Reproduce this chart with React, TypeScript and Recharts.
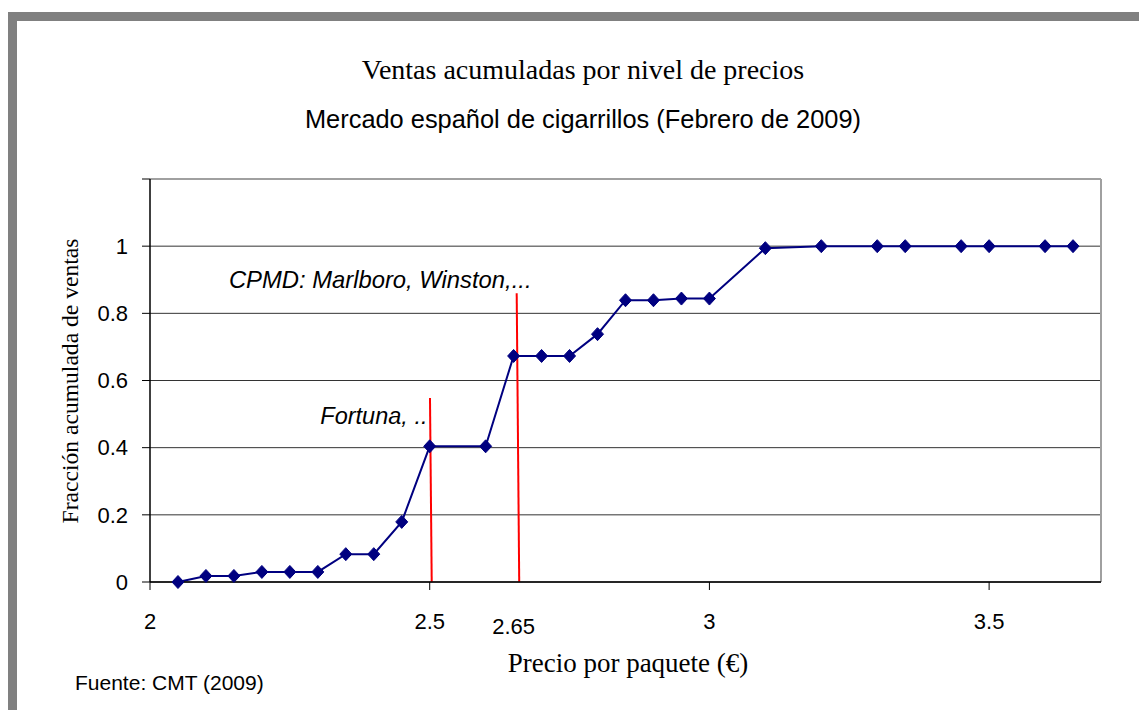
import React from "react";
import {
  LineChart,
  Line,
  XAxis,
  YAxis,
  CartesianGrid,
  ReferenceLine,
  ReferenceDot,
} from "recharts";

const prices = [
  2.05, 2.1, 2.15, 2.2, 2.25, 2.3, 2.35, 2.4, 2.45, 2.5, 2.6, 2.65, 2.7, 2.75,
  2.8, 2.85, 2.9, 2.95, 3.0, 3.1, 3.2, 3.3, 3.35, 3.45, 3.5, 3.6, 3.65,
];
const fractions = [
  0, 0.018, 0.018, 0.03, 0.03, 0.03, 0.083, 0.083, 0.179, 0.404, 0.404, 0.673,
  0.673, 0.673, 0.738, 0.839, 0.839, 0.844, 0.844, 0.994, 1, 1, 1, 1, 1, 1, 1,
];
const xTicks = [2, 2.5, 2.65, 3, 3.5];
const yTicks = [0, 0.2, 0.4, 0.6, 0.8, 1, 1.2];
const xDomain = [2, 3.7];
const yDomain = [0, 1.2];

const title1 = "Ventas acumuladas por nivel de precios";
const title2 = "Mercado español de cigarrillos (Febrero de 2009)";
const xTitle = "Precio por paquete (€)";
const yTitle = "Fracción acumulada de ventas";
const source = "Fuente: CMT (2009)";
const annFortuna = "Fortuna, ..";
const annCPMD = "CPMD: Marlboro, Winston,...";

const data = prices.map((p, i) => ({ price: p, frac: fractions[i] }));

const ARIAL = "Arial, 'Liberation Sans', sans-serif";
const TIMES = "'Times New Roman', 'Liberation Serif', serif";

const Diamond = (props: any) => {
  const { cx, cy } = props;
  if (cx == null || cy == null) return null;
  const w = 6;
  const h = 6.5;
  return (
    <polygon
      points={`${cx},${cy - h} ${cx + w},${cy} ${cx},${cy + h} ${cx - w},${cy}`}
      fill="#000080"
      stroke="#000080"
    />
  );
};

const X_TICK_SIZE = 8;
const X_TICK_MARGIN = 23;

const XTick = (props: any) => {
  const { x, y, payload } = props;
  const v = payload.value;
  const is265 = Math.abs(v - 2.65) < 1e-6;
  return (
    <g>
      {!is265 && (
        <line
          x1={x}
          x2={x}
          y1={y - X_TICK_MARGIN - X_TICK_SIZE}
          y2={y - X_TICK_MARGIN}
          stroke="#000"
          strokeWidth={1}
        />
      )}
      <text
        x={x}
        y={y + (is265 ? 5 : 0)}
        dy="0.71em"
        textAnchor="middle"
        fontFamily={ARIAL}
        fontSize={22}
        fill="#000"
      >
        {String(v)}
      </text>
    </g>
  );
};

const annLabel = (text: string, size: number) => (props: any) => {
  const vb = props.viewBox || {};
  return (
    <text
      x={vb.x}
      y={vb.y}
      textAnchor="end"
      dominantBaseline="central"
      fontFamily={ARIAL}
      fontStyle="italic"
      fontSize={size}
      fill="#000"
    >
      {text}
    </text>
  );
};

export default function App() {
  return (
    <div style={{ position: "relative", width: 1139, height: 702, background: "#fff" }}>
      <div
        style={{
          position: "absolute",
          left: 0,
          top: 4,
          right: 0,
          bottom: 0,
          borderTop: "9px solid #808080",
          borderLeft: "9px solid #808080",
        }}
      />
      <div
        style={{
          position: "absolute",
          left: 0,
          width: 1150,
          top: 48,
          textAlign: "center",
          fontFamily: TIMES,
          fontSize: 28,
          lineHeight: "28px",
          whiteSpace: "nowrap",
        }}
      >
        {title1}
      </div>
      <div
        style={{
          position: "absolute",
          left: 0,
          width: 1150,
          top: 97,
          textAlign: "center",
          fontFamily: ARIAL,
          fontSize: 25.4,
          lineHeight: "28px",
          whiteSpace: "nowrap",
        }}
      >
        {title2}
      </div>
      <div
        style={{
          position: "absolute",
          left: 620 - 200,
          width: 400,
          top: 641,
          textAlign: "center",
          fontFamily: TIMES,
          fontSize: 27,
          lineHeight: "28px",
          whiteSpace: "nowrap",
        }}
      >
        {xTitle}
      </div>
      <div
        style={{
          position: "absolute",
          left: 62 - 200,
          width: 400,
          top: 373 - 14,
          textAlign: "center",
          fontFamily: TIMES,
          fontSize: 23.6,
          lineHeight: "28px",
          whiteSpace: "nowrap",
          transform: "rotate(-90deg)",
        }}
      >
        {yTitle}
      </div>
      <div
        style={{
          position: "absolute",
          left: 67,
          top: 664,
          fontFamily: ARIAL,
          fontSize: 21,
          lineHeight: "22px",
          whiteSpace: "nowrap",
        }}
      >
        {source}
      </div>
      <div style={{ position: "absolute", left: 0, top: 0 }}>
        <LineChart
          width={1139}
          height={702}
          data={data}
          margin={{ top: 171, right: 46, bottom: 98, left: 82 }}
        >
          <CartesianGrid vertical={false} stroke="#333" strokeWidth={1} />
          <XAxis
            type="number"
            dataKey="price"
            domain={xDomain}
            ticks={xTicks}
            allowDataOverflow
            height={30}
            tickSize={X_TICK_SIZE}
            tickMargin={X_TICK_MARGIN}
            tickLine={false}
            axisLine={{ stroke: "#000", strokeWidth: 1.5 }}
            tick={<XTick />}
            interval={0}
          />
          <YAxis
            type="number"
            domain={yDomain}
            ticks={yTicks}
            width={60}
            tickSize={8}
            tickMargin={14}
            tickLine={{ stroke: "#000" }}
            axisLine={{ stroke: "#000", strokeWidth: 1.5 }}
            tick={{ fontFamily: ARIAL, fontSize: 22, fill: "#000" }}
            tickFormatter={(v: number) => (v > 1.1 ? "" : String(v))}
            interval={0}
          />
          <ReferenceLine y={1.2} stroke="#a0a0a0" strokeWidth={2} />
          <ReferenceLine x={3.7} stroke="#a0a0a0" strokeWidth={2} />
          <Line
            type="linear"
            dataKey="frac"
            stroke="#000080"
            strokeWidth={2}
            dot={<Diamond />}
            isAnimationActive={false}
          />
          <ReferenceLine
            segment={[
              { x: 2.5005, y: 0.548 },
              { x: 2.5036, y: 0 },
            ]}
            stroke="#ff0000"
            strokeWidth={2}
          />
          <ReferenceLine
            segment={[
              { x: 2.6555, y: 0.86 },
              { x: 2.66, y: 0 },
            ]}
            stroke="#ff0000"
            strokeWidth={2}
          />
          <ReferenceDot
            x={2.496}
            y={0.495}
            r={0}
            fill="none"
            stroke="none"
            ifOverflow="visible"
            label={annLabel(annFortuna, 23.5)}
          />
          <ReferenceDot
            x={2.682}
            y={0.902}
            r={0}
            fill="none"
            stroke="none"
            ifOverflow="visible"
            label={annLabel(annCPMD, 23.8)}
          />
        </LineChart>
      </div>
    </div>
  );
}
